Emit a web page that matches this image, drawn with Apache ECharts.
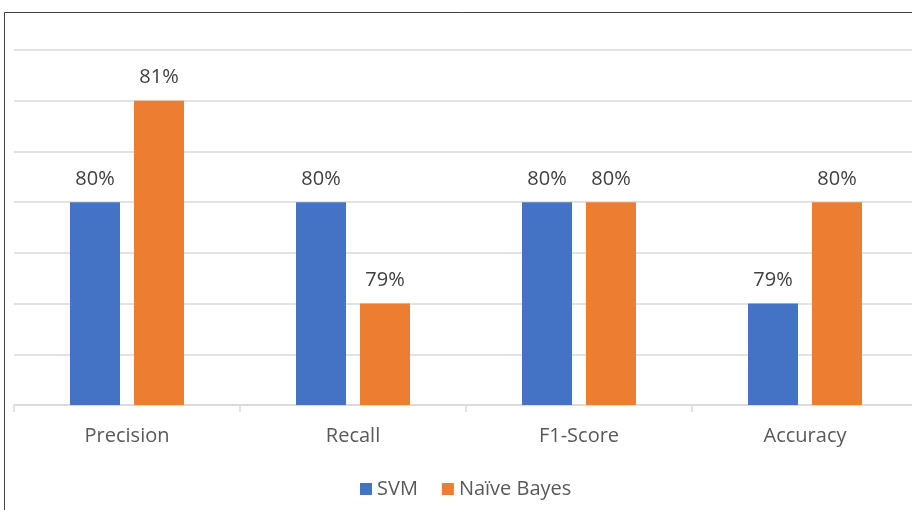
<!DOCTYPE html>
<html>
<head>
<meta charset="utf-8">
<script src="https://cdn.jsdelivr.net/npm/echarts@6/dist/echarts.min.js"></script>
<style>
  html, body { margin: 0; padding: 0; background: #fff; overflow: hidden; }
  #chart { width: 920px; height: 510px; }
</style>
</head>
<body>
<div id="chart"></div>
<script>
// 数据
const categories = ['Precision', 'Recall', 'F1-Score', 'Accuracy'];
const svmValues = [80, 80, 80, 79];
const nbValues = [81, 79, 80, 80];
const seriesNames = ['SVM', 'Naïve Bayes'];

const font = 'Open Sans';

const chart = echarts.init(document.getElementById('chart'));

// 数据标签样式
const labelStyle = {
    show: true,
    position: 'top',
    distance: 13,
    formatter: '{c}%',
    fontFamily: font,
    fontSize: 20,
    color: '#404040'
};

const option = {
    animation: false,
    graphic: [
        {
            type: 'rect',
            shape: { x: 4.5, y: 12.5, width: 1000, height: 1000 },
            style: { fill: 'none', stroke: '#404040', lineWidth: 1 },
            z: 100
        }
    ],
    grid: {
        left: 14,
        right: 2,
        top: 50,
        bottom: 105
    },
    legend: {
        data: seriesNames,
        top: 479,
        left: 360,
        padding: 0,
        itemWidth: 12,
        itemHeight: 12,
        itemGap: 24,
        icon: 'rect',
        textStyle: { fontFamily: font, fontSize: 20, color: '#595959' }
    },
    xAxis: {
        type: 'category',
        data: categories,
        axisLine: { lineStyle: { color: '#d9d9d9', width: 1.5 } },
        axisTick: { show: true, length: 7, lineStyle: { color: '#d9d9d9', width: 1.5 } },
        axisLabel: { fontFamily: font, fontSize: 20, color: '#595959', margin: 21 }
    },
    yAxis: {
        type: 'value',
        min: 78,
        max: 81.5,
        interval: 0.5,
        axisLabel: { show: false },
        axisLine: { show: false },
        axisTick: { show: false },
        splitLine: { lineStyle: { color: '#d9d9d9', width: 1.5 } }
    },
    series: [
        {
            name: seriesNames[0],
            type: 'bar',
            data: svmValues,
            barWidth: 50,
            barGap: '28%',
            itemStyle: { color: '#4472C4' },
            label: labelStyle
        },
        {
            name: seriesNames[1],
            type: 'bar',
            data: nbValues,
            barWidth: 50,
            itemStyle: { color: '#ED7D31' },
            label: labelStyle
        }
    ]
};

chart.setOption(option);
</script>
</body>
</html>
